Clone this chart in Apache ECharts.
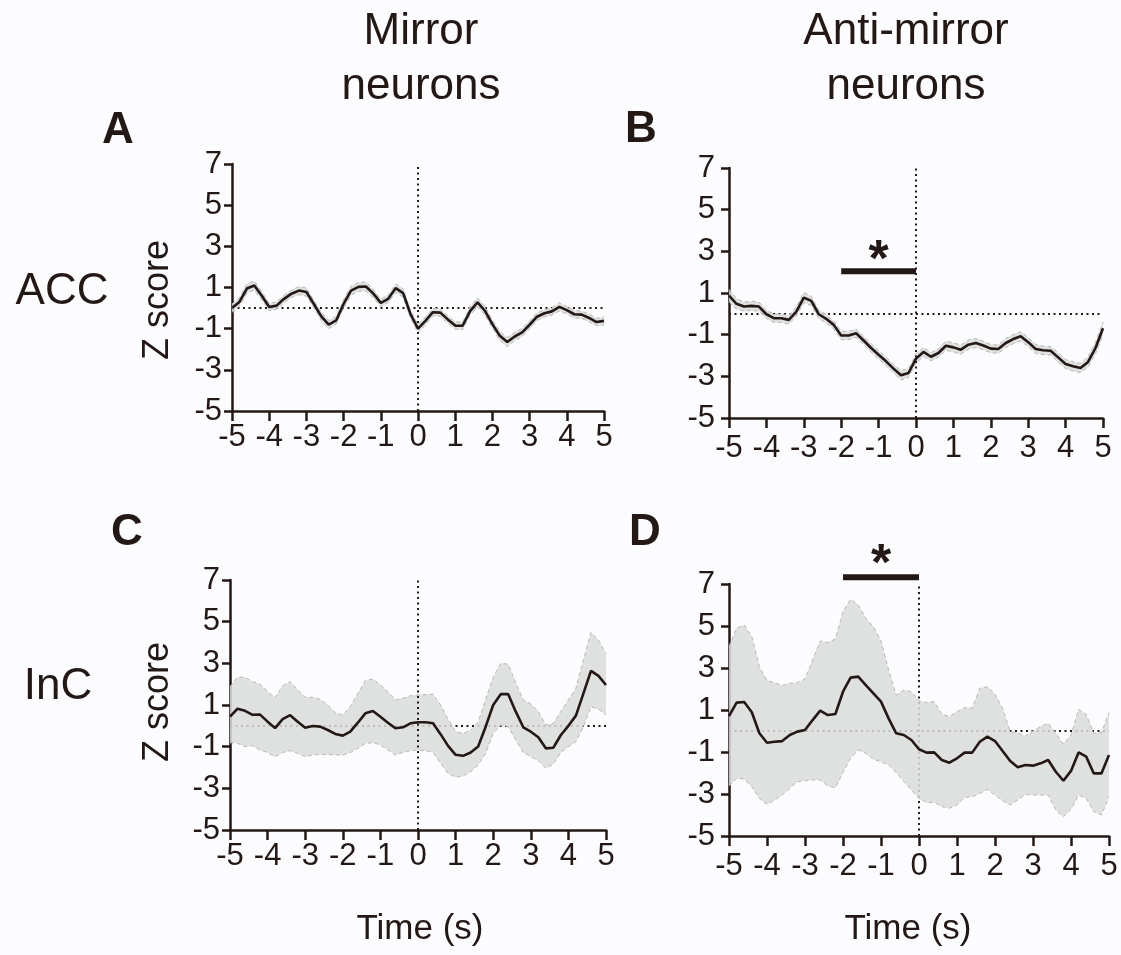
<!DOCTYPE html>
<html>
<head>
<meta charset="utf-8">
<script src="https://cdn.jsdelivr.net/npm/echarts@6/dist/echarts.min.js"></script>
<style>
html,body{margin:0;padding:0;background:#fcfcfe;}
#chart{width:1121px;height:955px;}
</style>
</head>
<body>
<div id="chart"></div>
<script>
// ---------- data ----------
const time = [-5,-4.8,-4.6,-4.4,-4.2,-4,-3.8,-3.6,-3.4,-3.2,-3,-2.8,-2.6,-2.4,-2.2,-2,-1.8,-1.6,-1.4,-1.2,-1,-0.8,-0.6,-0.4,-0.2,0,0.2,0.4,0.6,0.8,1,1.2,1.4,1.6,1.8,2,2.2,2.4,2.6,2.8,3,3.2,3.4,3.6,3.8,4,4.2,4.4,4.6,4.8,5];
const xTicks = [-5,-4,-3,-2,-1,0,1,2,3,4,5];
const yTicks = [-5,-3,-1,1,3,5,7];

const meanA = [0,0.3,0.95,1.1,0.6,0.05,0.12,0.45,0.7,0.85, 0.78,0.2,-0.4,-0.8,-0.6,0.2,0.85,1.03,1.05,0.7, 0.25,0.45,0.97,0.73,-0.3,-1.0,-0.62,-0.2,-0.22,-0.55, -0.85,-0.86,-0.15,0.28,-0.13,-0.78,-1.35,-1.65,-1.38,-1.18, -0.81,-0.42,-0.25,-0.16,0.06,-0.1,-0.3,-0.32,-0.48,-0.68, -0.62];
const semA = [0.2,0.2,0.22,0.22,0.2,0.18,0.18,0.18,0.18,0.2, 0.2,0.18,0.2,0.2,0.18,0.2,0.22,0.22,0.22,0.2, 0.18,0.18,0.2,0.2,0.18,0.2,0.2,0.18,0.18,0.18, 0.18,0.18,0.2,0.22,0.2,0.2,0.22,0.22,0.2,0.2, 0.2,0.18,0.18,0.18,0.2,0.18,0.18,0.18,0.18,0.18, 0.2];

const meanB = [0.88,0.48,0.35,0.38,0.35,-0.02,-0.21,-0.21,-0.29,0.11, 0.78,0.62,-0.02,-0.24,-0.53,-1.04,-1.04,-0.93,-1.28,-1.64, -1.96,-2.28,-2.63,-2.95,-2.84,-2.15,-1.83,-2.06,-1.88,-1.53, -1.61,-1.72,-1.48,-1.4,-1.52,-1.67,-1.69,-1.4,-1.21,-1.08, -1.36,-1.69,-1.75,-1.77,-2.09,-2.41,-2.52,-2.6,-2.31,-1.64, -0.69];
const semB = [0.3,0.25,0.22,0.22,0.22,0.2,0.2,0.2,0.2,0.22, 0.25,0.22,0.2,0.2,0.2,0.2,0.2,0.2,0.2,0.2, 0.2,0.2,0.2,0.22,0.22,0.22,0.22,0.2,0.2,0.22, 0.22,0.22,0.22,0.22,0.2,0.2,0.2,0.22,0.22,0.22, 0.22,0.22,0.2,0.2,0.22,0.22,0.22,0.22,0.25,0.28, 0.3];

const meanC = [0.44,0.82,0.72,0.53,0.54,0.2,-0.11,0.32,0.51,0.2, -0.09,-0.01,-0.04,-0.2,-0.39,-0.47,-0.28,0.15,0.6,0.71, 0.44,0.15,-0.12,-0.07,0.12,0.17,0.17,0.12,-0.4,-0.96, -1.39,-1.44,-1.28,-0.99,-0.04,1.0,1.52,1.52,0.68,-0.07, -0.28,-0.55,-1.08,-1.05,-0.44,0.0,0.49,1.56,2.64,2.4, 1.96];
const upperC = [1.88,2.33,2.33,2.12,2.0,1.64,1.35,1.92,2.12,1.72, 1.37,1.37,1.27,1.0,0.63,0.52,0.92,1.56,2.17,2.25, 1.96,1.64,1.24,1.32,1.44,1.48,1.5,1.52,1.0,0.32, -0.28,-0.36,-0.2,0.17,1.28,2.33,3.0,2.96,2.05,1.24, 1.05,0.69,0.04,0.12,0.69,1.24,1.8,3.16,4.48,4.12, 3.45];
const lowerC = [-0.81,-0.84,-1.0,-0.95,-1.16,-1.28,-1.48,-1.28,-1.19,-1.32, -1.48,-1.4,-1.37,-1.37,-1.4,-1.4,-1.28,-1.08,-0.84,-0.81, -0.92,-1.16,-1.4,-1.28,-1.19,-1.16,-1.19,-1.28,-1.8,-2.28, -2.47,-2.41,-2.2,-1.88,-1.32,-0.36,0.04,-0.04,-0.68,-1.28, -1.48,-1.67,-2.04,-1.83,-1.28,-1.0,-0.76,-0.04,0.92,0.8, 0.52];

const meanD = [0.71,1.35,1.38,0.89,-0.11,-0.56,-0.51,-0.48,-0.19,-0.03, 0.05,0.52,0.97,0.76,0.81,1.87,2.54,2.59,2.19,1.79, 1.4,0.6,-0.11,-0.19,-0.43,-0.87,-1.03,-1.02,-1.38,-1.51, -1.3,-1.03,-1.03,-0.51,-0.27,-0.48,-0.95,-1.43,-1.73,-1.62, -1.65,-1.54,-1.38,-1.94,-2.37,-1.9,-1.02,-1.22,-2.02,-2.02, -1.14];
const upperD = [4.02,4.89,5.05,4.49,3.06,2.4,2.3,2.17,2.27,2.3, 2.48,3.38,4.29,4.21,4.38,5.68,6.27,6.0,5.37,4.97, 4.29,2.9,1.71,1.95,1.87,1.44,1.35,1.4,0.81,0.68, 0.92,1.11,1.08,2.03,2.11,1.75,1.08,-0.03,-0.11,-0.24, 0,0.21,0.37,-0.11,-0.62,-0.19,1.03,0.79,-0.11,-0.08, 0.87];
const lowerD = [-2.62,-2.25,-2.29,-2.65,-3.21,-3.49,-3.29,-3.05,-2.73,-2.41, -2.37,-2.33,-2.33,-2.62,-2.7,-1.98,-1.3,-0.9,-1.06,-1.35, -1.46,-1.62,-1.98,-2.41,-2.81,-3.21,-3.4,-3.4,-3.6,-3.68, -3.52,-3.17,-3.13,-2.97,-2.78,-3.05,-3.32,-3.52,-3.29,-3.02, -3.05,-3.05,-3.05,-3.76,-4.08,-3.73,-3.05,-3.21,-3.84,-4.0, -3.16];

// significance bars: [start, end], level, star position
const sigSpanB = [-2, 0];
const sigLevelB = 2.05;
const sigStarB = [-1, 3.0];
const sigSpanD = [-2, 0];
const sigLevelD = 7.32;
const sigStarD = [-1, 8.35];

const colTitles = ['Mirror\nneurons', 'Anti-mirror\nneurons'];
const panelLetters = ['A', 'B', 'C', 'D'];
const rowLabels = ['ACC', 'InC'];
const yName = 'Z score';
const xName = 'Time (s)';

// ---------- chart ----------
const ink = '#231815';
const FF = '"Liberation Sans", Arial, Helvetica, sans-serif';
const chart = echarts.init(document.getElementById('chart'), null, {renderer: 'canvas'});

const grids = [
  {left: 232, top: 164, width: 372, height: 247},
  {left: 729, top: 168, width: 374, height: 250},
  {left: 230, top: 580, width: 376, height: 250},
  {left: 729, top: 584, width: 380, height: 252}
];
const xMargins = [11, 15, 11, 15];
const yMargins = [10, 14, 10, 14];

const xAxes = grids.map((g, i) => ({
  type: 'value', gridIndex: i, min: xTicks[0], max: xTicks[xTicks.length - 1], interval: 1,
  axisLine: {show: true, onZero: false, lineStyle: {color: ink, width: 2.5}},
  axisTick: {show: true, length: 10, lineStyle: {color: ink, width: 2.5}},
  axisLabel: {color: ink, fontSize: 31, fontFamily: FF, margin: xMargins[i], showMinLabel: true, showMaxLabel: true, hideOverlap: false},
  splitLine: {show: false}
}));
const yAxes = grids.map((g, i) => ({
  type: 'value', gridIndex: i, min: yTicks[0], max: yTicks[yTicks.length - 1], interval: 2,
  axisLine: {show: true, onZero: false, lineStyle: {color: ink, width: 2.5}},
  axisTick: {show: true, length: 8, lineStyle: {color: ink, width: 2.5}},
  axisLabel: {color: ink, fontSize: 31, fontFamily: FF, margin: yMargins[i], showMinLabel: true, showMaxLabel: true, hideOverlap: false},
  splitLine: {show: false}
}));

function pairs(arr) { return time.map((t, k) => [t, arr[k]]); }

function panelSeries(i, mean, lower, upper, vLineOnTop) {
  const dotted = {color: ink, width: 2, type: [2, 3.5]};
  const hLine = {silent: true, symbol: 'none', z: 1, label: {show: false}, lineStyle: dotted, data: [{yAxis: 0}]};
  const vLine = {silent: true, symbol: 'none', label: {show: false}, lineStyle: dotted, data: [{xAxis: 0}]};
  if (!vLineOnTop) { hLine.data.push({xAxis: 0}); }
  const edge = {color: '#b8b8b8', width: 1, type: [4, 3]};
  const s = [
    {
      type: 'custom', coordinateSystem: 'cartesian2d', xAxisIndex: i, yAxisIndex: i, z: 2, silent: true,
      data: pairs(mean), encode: {x: 0, y: 1},
      markLine: hLine,
      renderItem: function (params, api) {
        if (params.dataIndex !== 0) return null;
        const pts = [];
        for (let k = 0; k < time.length; k++) pts.push(api.coord([time[k], upper[k]]));
        for (let k = time.length - 1; k >= 0; k--) pts.push(api.coord([time[k], lower[k]]));
        return {type: 'polygon', shape: {points: pts}, style: {fill: '#d9dada', opacity: 0.85}};
      }
    },
    {
      type: 'line', xAxisIndex: i, yAxisIndex: i, data: pairs(lower), symbol: 'none', z: 3, silent: true,
      lineStyle: edge
    },
    {
      type: 'line', xAxisIndex: i, yAxisIndex: i, data: pairs(upper), symbol: 'none', z: 3, silent: true,
      lineStyle: edge
    },
    {
      type: 'line', xAxisIndex: i, yAxisIndex: i, data: pairs(mean), symbol: 'none', z: 4, silent: true,
      lineStyle: {color: ink, width: 2.6}
    }
  ];
  if (vLineOnTop) { s[3].markLine = Object.assign({z: 5}, vLine); }
  return s;
}

function sigSeries(i, span, level, star) {
  return [
    {
      type: 'line', xAxisIndex: i, yAxisIndex: i, clip: false, symbol: 'none', silent: true, z: 6,
      data: [[span[0], level], [span[1], level]],
      lineStyle: {color: ink, width: 6, cap: 'butt'}
    },
    {
      type: 'scatter', xAxisIndex: i, yAxisIndex: i, clip: false, silent: true, z: 6,
      data: [star], symbolSize: 1, itemStyle: {color: 'rgba(0,0,0,0)'},
      label: {show: true, formatter: '*', position: 'inside', color: ink, opacity: 1, textBorderWidth: 0, textShadowBlur: 0,
              fontSize: 52, fontWeight: 'bold', fontFamily: FF, offset: [0, 10]}
    }
  ];
}

const semLower = (m, s) => m.map((v, k) => v - s[k]);
const semUpper = (m, s) => m.map((v, k) => v + s[k]);

const series = [].concat(
  panelSeries(0, meanA, semLower(meanA, semA), semUpper(meanA, semA), true),
  panelSeries(1, meanB, semLower(meanB, semB), semUpper(meanB, semB), true),
  panelSeries(2, meanC, lowerC, upperC, true),
  panelSeries(3, meanD, lowerD, upperD, false),
  sigSeries(1, sigSpanB, sigLevelB, sigStarB),
  sigSeries(3, sigSpanD, sigLevelD, sigStarD)
);

function txt(text, x, y, size, weight, rot) {
  return {
    type: 'text', x: x, y: y, rotation: rot || 0, silent: true,
    style: {text: text, x: 0, y: 0, fill: ink, fontSize: size, fontFamily: FF, fontWeight: weight || 'normal',
            align: 'center', verticalAlign: 'middle', lineHeight: 55}
  };
}

const graphics = [
  txt(colTitles[0], 421, 59, 44),
  txt(colTitles[1], 906, 59, 44),
  txt(panelLetters[0], 118, 131, 44, 'bold'),
  txt(panelLetters[1], 641, 130, 44, 'bold'),
  txt(panelLetters[2], 127, 533, 44, 'bold'),
  txt(panelLetters[3], 645, 533, 44, 'bold'),
  txt(rowLabels[0], 62, 292, 44),
  txt(rowLabels[1], 58, 687, 44),
  txt(yName, 158, 300, 36, 'normal', Math.PI / 2),
  txt(yName, 158, 702, 36, 'normal', Math.PI / 2),
  txt(xName, 420, 929, 35),
  txt(xName, 908, 929, 35)
];

chart.setOption({
  backgroundColor: '#fcfcfe',
  animation: false,
  grid: grids,
  xAxis: xAxes,
  yAxis: yAxes,
  series: series,
  graphic: graphics
});
</script>
</body>
</html>
